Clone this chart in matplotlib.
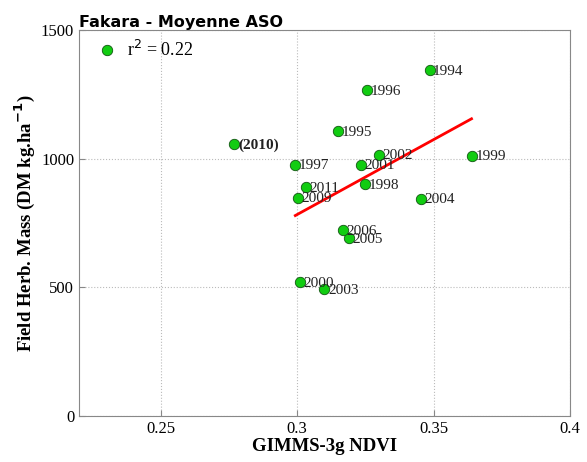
import numpy as np
import matplotlib.pyplot as plt

# NDVI vs herbaceous mass, one point per year
years = ["1994", "1995", "1996", "1997", "1998", "1999", "2000", "2001",
         "2002", "2003", "2004", "2005", "2006", "2009", "(2010)", "2011"]
ndvi = [0.3485, 0.315, 0.3255, 0.2993, 0.3248, 0.364, 0.301, 0.3234,
        0.330, 0.310, 0.3453, 0.319, 0.3168, 0.3004, 0.277, 0.3033]
mass = [1345, 1109, 1267, 977, 903, 1012, 519, 977,
        1016, 492, 845, 690, 721, 849, 1058, 891]

# fitted line end points
fit_x = [0.2993, 0.3639]
fit_y = [779, 1155]

fig = plt.figure(figsize=(5.87, 4.62), dpi=100)
ax = fig.add_axes([0.1346, 0.0996, 0.8364, 0.8354])

ax.plot(fit_x, fit_y, color="#ff0000", lw=2, zorder=2)
ax.plot(ndvi, mass, "o", color="#11cc11", mec="#115511", mew=0.6, ms=7.5,
        zorder=3, label="r$^2$ = 0.22")

for yr, x, y in zip(years, ndvi, mass):
    bold = yr.startswith("(")
    ax.annotate(yr, (x, y), xytext=(2.5, -1), textcoords="offset points",
                va="center", ha="left", family="Liberation Serif",
                fontsize=11, fontweight="bold" if bold else "normal",
                color="#222222", zorder=4)

ax.set_xlim(0.22, 0.4)
ax.set_ylim(0, 1500)
ax.set_xticks([0.25, 0.3, 0.35, 0.4])
ax.set_xticklabels(["0.25", "0.3", "0.35", "0.4"])
ax.set_yticks([0, 500, 1000, 1500])
ax.grid(True, linestyle=":", color="#bbbbbb", lw=0.8)
ax.set_axisbelow(True)

for s in ax.spines.values():
    s.set_color("#888888")
ax.tick_params(direction="in", length=4, color="#888888", labelsize=12)
for lab in ax.get_xticklabels() + ax.get_yticklabels():
    lab.set_family("Liberation Serif")

ax.set_xlabel("GIMMS-3g NDVI", family="Liberation Serif", fontweight="bold",
              fontsize=13.5, labelpad=1)
ax.set_ylabel("Field Herb. Mass (DM kg.ha$^{\\mathbf{-1}}$)",
              family="Liberation Serif", fontweight="bold", fontsize=13.5,
              labelpad=3)
ax.set_title("Fakara - Moyenne ASO", loc="left", fontweight="bold",
             fontsize=11.5, pad=2, x=0.0)

leg = ax.legend(loc="upper left", bbox_to_anchor=(0.01, 1.006), frameon=False,
                handlelength=1.2, handletextpad=0.5, borderaxespad=0.3,
                prop={"family": "Liberation Serif", "size": 13})

fig.savefig("out.png", dpi=100)
